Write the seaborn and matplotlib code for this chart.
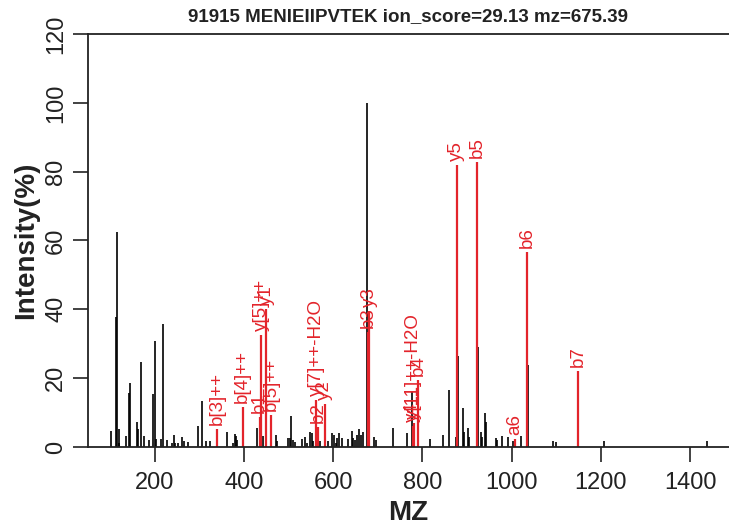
import matplotlib
matplotlib.use("Agg")
import matplotlib.pyplot as plt
import seaborn as sns

# peptide spectrum: all peaks (black) and matched ions (red)
title = "91915 MENIEIIPVTEK ion_score=29.13 mz=675.39"

peak_mz = [101.9, 113.8, 116.7, 119.8, 121.5, 136.2, 142.2, 145.1, 160.1, 163.0,
           169.1, 175.8, 188.4, 197.4, 201.1, 204.1, 214.6, 219.8, 227.3, 240.0,
           243.0, 246.6, 253.3, 262.3, 266.0, 275.8, 298.1, 305.7, 316.0, 323.6,
           362.4, 375.1, 379.6, 382.5, 385.5, 428.8, 443.8, 472.1, 475.0, 499.0,
           503.5, 506.4, 509.4, 514.7, 529.6, 536.3, 540.8, 548.2, 552.0, 555.7,
           571.4, 588.0, 598.4, 602.0, 605.8, 609.4, 613.9, 620.0, 634.0, 641.7,
           645.3, 649.0, 654.3, 658.8, 663.2, 667.6, 676.6, 692.3, 696.0, 733.5,
           764.9, 776.5, 817.0, 845.8, 860.0, 874.6, 879.7, 890.2, 893.2, 902.9,
           905.0, 924.5, 931.3, 934.3, 939.5, 941.8, 964.8, 967.8, 977.6, 991.1,
           1002.3, 1021.5, 1037.2, 1091.8, 1099.2, 1149.5, 1206.0, 1437.0]
peak_int = [4.7, 37.9, 62.4, 5.2, 1.3, 3.2, 15.6, 18.5, 7.2, 5.2,
            24.6, 3.2, 2.0, 15.4, 30.9, 2.3, 2.2, 35.7, 2.0, 1.3,
            3.4, 1.3, 1.3, 2.9, 1.7, 1.5, 6.2, 13.5, 1.7, 1.7,
            4.3, 1.3, 3.8, 3.2, 2.0, 5.6, 3.3, 3.5, 1.6, 2.5,
            2.5, 9.1, 2.0, 1.4, 2.2, 3.0, 1.1, 4.5, 4.2, 1.6,
            1.6, 1.6, 4.2, 3.5, 1.1, 2.5, 4.2, 2.5, 2.2, 4.7,
            2.5, 2.0, 3.5, 5.2, 3.5, 4.5, 100.0, 2.8, 2.0, 5.6,
            4.0, 15.9, 2.2, 3.5, 16.6, 3.0, 26.3, 11.3, 4.5, 5.4,
            3.0, 29.2, 4.5, 3.0, 10.0, 7.4, 2.5, 1.9, 3.2, 2.8,
            1.6, 3.2, 23.9, 1.6, 1.4, 9.0, 1.7, 1.6]

ion_labels = ["b[3]++", "b[4]++", "b1", "y[5]++", "y1", "b[5]++", "y[7]++-H2O", "b2",
              "y2", "b3", "y3", "y4", "y[11]++-H2O", "b4", "y5", "b5", "a6", "b6", "b7"]
ion_mz = [340.5, 397.5, 435.5, 439.3, 449.7, 461.7, 562.5, 567.0,
          581.0, 678.0, 681.0, 778.5, 781.0, 790.9, 877.5, 922.3, 1008.1, 1035.0, 1148.5]
ion_int = [5.2, 11.7, 8.8, 32.6, 40.0, 9.3, 13.7, 5.9,
           12.5, 33.5, 39.5, 6.0, 7.0, 19.5, 82.0, 82.9, 2.2, 56.7, 22.1]

sns.set_style("ticks")
plt.rcParams['font.family'] = ['Liberation Sans', 'DejaVu Sans']

red = "#E3242B"
fig = plt.figure(figsize=(7.29, 5.27), dpi=100)
ax = fig.add_axes([0.1207, 0.1518, 0.8793, 0.7837])

ax.vlines(peak_mz, 0, peak_int, color="black", linewidth=1.2)
ax.vlines(ion_mz, 0, ion_int, color=red, linewidth=1.6)
for lab, x, y in zip(ion_labels, ion_mz, ion_int):
    ax.text(x, y + 1.2, lab, rotation=90, ha="center", va="bottom",
            color=red, fontsize=13.5)

ax.set_xlim(51, 1487)
ax.set_ylim(0, 120)
ax.set_xticks([200, 400, 600, 800, 1000, 1200, 1400])
ax.set_yticks([0, 20, 40, 60, 80, 100, 120])
ax.tick_params(axis="both", direction="out", length=11, width=1.2,
               labelsize=17, pad=7, color="#222222", labelcolor="#222222")
ax.tick_params(axis="y", labelrotation=90, pad=4)
for t in ax.get_yticklabels():
    t.set_va("center")
ax.spines["right"].set_visible(False)
for s in ["left", "top", "bottom"]:
    ax.spines[s].set_linewidth(1.3)
    ax.spines[s].set_color("#222222")

ax.set_xlabel("MZ", fontsize=20, fontweight="bold", labelpad=4, color="#222222")
ax.set_ylabel("Intensity(%)", fontsize=20, fontweight="bold", labelpad=4, color="#222222")
ax.set_title(title, fontsize=13.5, fontweight="bold", pad=9, color="#222222")

fig.savefig("out.png", dpi=100)
